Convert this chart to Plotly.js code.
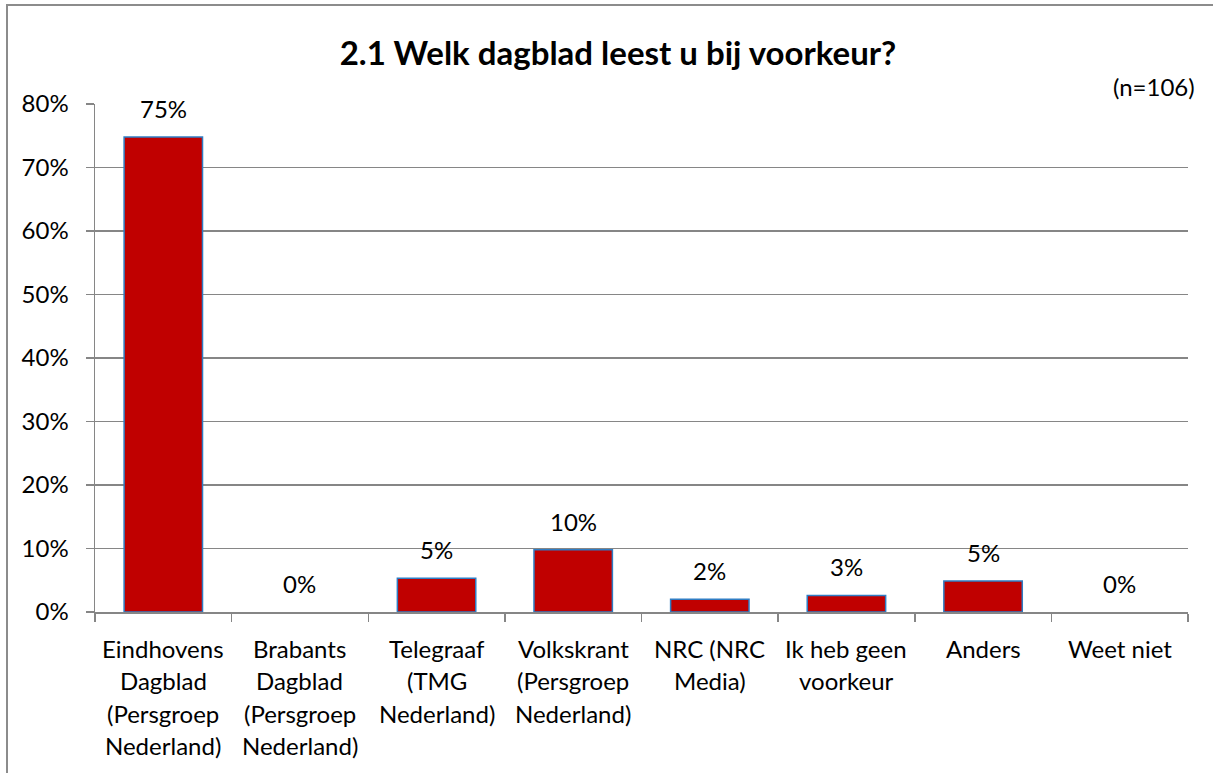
<!DOCTYPE html>
<html>
<head>
<meta charset="utf-8">
<script src="https://cdn.plot.ly/plotly-3.0.1.min.js"></script>
<style>
  html, body { margin:0; padding:0; background:#fff; overflow:hidden; }
  #wrap { position:relative; width:1213px; height:773px; overflow:hidden; }
  #chart { position:absolute; left:0; top:0; width:1213px; height:773px; }
  #frame { position:absolute; left:6px; top:4px; width:1400px; height:1000px;
           border-left:2px solid #8c8c8c; border-top:2px solid #8c8c8c; pointer-events:none; }
</style>
</head>
<body>
<div id="wrap">
  <div id="chart"></div>
  <div id="frame"></div>
</div>
<script>
// ---- data ----
const categories = [
  "Eindhovens<br>Dagblad<br>(Persgroep<br>Nederland)",
  "Brabants<br>Dagblad<br>(Persgroep<br>Nederland)",
  "Telegraaf<br>(TMG<br>Nederland)",
  "Volkskrant<br>(Persgroep<br>Nederland)",
  "NRC (NRC<br>Media)",
  "Ik heb geen<br>voorkeur",
  "Anders",
  "Weet niet"
];
const values = [74.8, 0, 5.3, 9.8, 2.0, 2.6, 4.9, 0];
const yTicks = [0, 10, 20, 30, 40, 50, 60, 70, 80];
const titleText = "2.1 Welk dagblad leest u bij voorkeur?";
const noteText = "(n=106)";

// ---- styling ----
const FONT = "Lato, 'Liberation Sans', sans-serif";
const GRAY = "#868686";
const LINE_GAP = 32.4;

const annotations = [];
// data labels
values.forEach((v, i) => {
  annotations.push({
    x: categories[i], y: v, xref: 'x', yref: 'y',
    text: Math.round(v) + '%', showarrow: false,
    xanchor: 'center', yanchor: 'bottom', yshift: 12,
    font: { family: FONT, size: 24, color: '#000' }
  });
});
// category labels, line by line
categories.forEach((c) => {
  c.split('<br>').forEach((line, j) => {
    annotations.push({
      x: c, y: 0, xref: 'x', yref: 'paper',
      text: line, showarrow: false,
      xanchor: 'center', yanchor: 'top', yshift: -20 - LINE_GAP * j,
      font: { family: FONT, size: 24, color: '#000' }
    });
  });
});
// (n=106)
annotations.push({
  x: 1.0082, y: 1, xref: 'paper', yref: 'paper',
  text: noteText, showarrow: false,
  xanchor: 'right', yanchor: 'middle', yshift: 18,
  font: { family: FONT, size: 24, color: '#000' }
});

const trace = {
  type: 'bar',
  x: categories,
  y: values,
  width: 0.574,
  marker: {
    color: '#C00000',
    line: { color: '#2F7DC4', width: values.map(v => v > 0 ? 1.5 : 0) }
  },
  hoverinfo: 'none'
};

const layout = {
  width: 1213, height: 773,
  margin: { l: 95, r: 25, t: 104, b: 161, pad: 0 },
  paper_bgcolor: 'rgba(0,0,0,0)',
  plot_bgcolor: '#fff',
  font: { family: FONT, size: 24, color: '#000' },
  showlegend: false,
  title: {
    text: '<b>' + titleText + '</b>',
    x: 0.4785, xref: 'paper', xanchor: 'center',
    y: 1 - 53 / 773, yref: 'container', yanchor: 'middle',
    font: { family: FONT, size: 33, color: '#000' }
  },
  xaxis: {
    type: 'category', range: [-0.5, categories.length - 0.5],
    showticklabels: false, ticks: 'outside', ticklen: 8,
    tickcolor: GRAY, tickwidth: 1.5, tickson: 'boundaries',
    showline: true, linecolor: GRAY, linewidth: 1.5,
    showgrid: false, zeroline: false, fixedrange: true
  },
  yaxis: {
    range: [0, 80], tickvals: yTicks, ticktext: yTicks.map(t => t + '%'),
    ticks: 'outside', ticklen: 8, tickcolor: GRAY, tickwidth: 1.5,
    showline: true, linecolor: GRAY, linewidth: 1.5,
    showgrid: true, gridcolor: GRAY, gridwidth: 1.3,
    zeroline: false, ticklabelstandoff: 12,
    tickfont: { family: FONT, size: 24, color: '#000' }, fixedrange: true
  },
  annotations: annotations
};

Plotly.newPlot('chart', [trace], layout, { staticPlot: true, displayModeBar: false });
</script>
</body>
</html>
